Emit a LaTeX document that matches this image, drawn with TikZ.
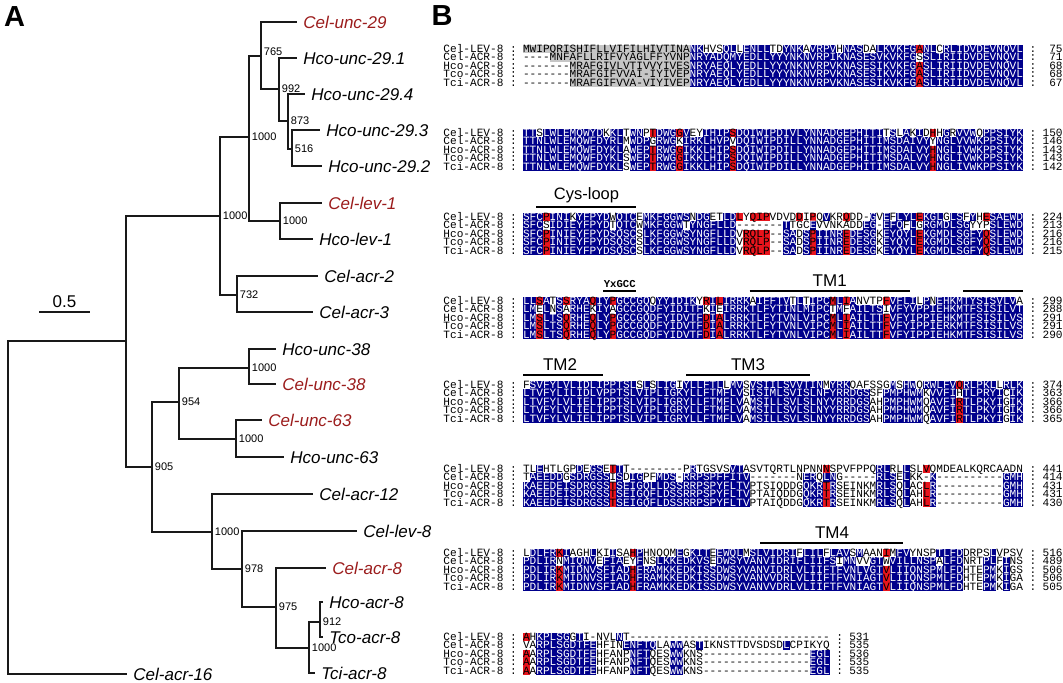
\documentclass[tikz,border=0pt]{standalone}
\usepackage{fontspec}
\setmainfont{Liberation Sans}
\newfontfamily\alnmono{Liberation Mono}
\usetikzlibrary{positioning}

\definecolor{alnblue}{HTML}{00008C}
\definecolor{alnred}{HTML}{E8141C}
\definecolor{alngray}{HTML}{C6C6C6}
\definecolor{genered}{HTML}{9B1C1C}

% alignment helpers: residue columns start at x=523, 6.667px apart
\newcount\alncol
\def\alnx{523}
\def\alncw{6.6667}
\def\alnput#1#2{\node[res#2] at ({\alnx+(\the\alncol+0.5)*\alncw},\alny) {#1};}
\def\alnchars#1#2\relax#3#4\relax{%
  \alnput{#1}{#3}%
  \global\advance\alncol by 1\relax
  \ifx\relax#2\relax
    \let\alnnext\relax
  \else
    \ifx\relax#4\relax
      \def\alnnext{\alnchars#2\relax w\relax}%
    \else
      \def\alnnext{\alnchars#2\relax#4\relax}%
    \fi
  \fi
  \alnnext}
% #1 y, #2 name, #3 residues, #4 shading (b blue, w none, r red, g grey), #5 end number
\newcommand\alnrow[5]{%
  \def\alny{#1}%
  \node[alntext,anchor=west] at (443,#1) {#2 :};
  \global\alncol=0
  \alnchars#3\relax#4\relax
  \node[alntext] at ({\alnx+(\the\alncol+1.5)*\alncw},#1) {:};
  \node[alntext,anchor=east] at ({\alnx+(\the\alncol+6)*\alncw},#1) {#5};
}

\begin{document}
\begin{tikzpicture}[x=0.5pt,y=-0.5pt,
  branch/.style={line width=1pt,draw=black!90},
  leaf/.style={anchor=west,inner xsep=3pt,inner ysep=0pt,text height=6.1pt,text depth=0pt,
    font=\fontsize{8.5}{9}\selectfont\itshape},
  celeg/.style={leaf,text=genered},
  boot/.style={anchor=west,inner xsep=1.25pt,inner ysep=0pt,text height=3.9pt,text depth=0pt,
    font=\fontsize{5.5}{6}\selectfont},
  panel/.style={inner sep=0pt,text height=10.4pt,text depth=0pt,font=\fontsize{14.5}{15}\selectfont\bfseries},
  alntext/.style={inner sep=0pt,text height=3.6pt,text depth=0.2pt,font=\alnmono\fontsize{5.56}{6}\selectfont},
  alncell/.style={alntext,minimum width=3.45pt,minimum height=4.45pt},
  resb/.style={alncell,fill=alnblue,text=white},
  resw/.style={alncell},
  resr/.style={alncell,fill=alnred},
  resg/.style={alncell,fill=alngray},
  region/.style={line width=1pt},
  regtext/.style={inner sep=0pt,font=\fontsize{8.5}{9}\selectfont}]
\useasboundingbox (0,0) rectangle (1063,683);

% ---------- A: tree ----------
\node[panel] (pa) at (14.5,16.5) {A};

\coordinate (nroot) at (8,508);
\coordinate (nmain) at (126,341);
\coordinate (nlev) at (220,216);
\coordinate (nunc) at (249,137);
\coordinate (nunc29a) at (261,56);
\coordinate (nunc29b) at (279,89);
\coordinate (nunc29c) at (288,121);
\coordinate (nunc29d) at (292,149);
\coordinate (nlev1) at (280,221);
\coordinate (nacr23) at (237,295);
\coordinate (nlow) at (152,467);
\coordinate (nunc3863) at (179,402);
\coordinate (nunc38) at (249,368);
\coordinate (nunc63) at (236,439);
\coordinate (nacr) at (212,532);
\coordinate (nacr8a) at (242,569);
\coordinate (nacr8b) at (276,607);
\coordinate (nacr8c) at (309,648);
\coordinate (nacr8d) at (320,622);

\node[celeg] (celunc29) at (297,22) {Cel-unc-29};
\node[leaf] (hcounc291) at (297,58) {Hco-unc-29.1};
\node[leaf] (hcounc294) at (305,94) {Hco-unc-29.4};
\node[leaf] (hcounc293) at (320,130) {Hco-unc-29.3};
\node[leaf] (hcounc292) at (322,166) {Hco-unc-29.2};
\node[celeg] (cellev1) at (322,203) {Cel-lev-1};
\node[leaf] (hcolev1) at (313,239) {Hco-lev-1};
\node[leaf] (celacr2) at (318,276) {Cel-acr-2};
\node[leaf] (celacr3) at (313,312) {Cel-acr-3};
\node[leaf] (hcounc38) at (276,349) {Hco-unc-38};
\node[celeg] (celunc38) at (276,384) {Cel-unc-38};
\node[celeg] (celunc63) at (262,420) {Cel-unc-63};
\node[leaf] (hcounc63) at (284,457) {Hco-unc-63};
\node[leaf] (celacr12) at (313,494) {Cel-acr-12};
\node[leaf] (cellev8) at (357,531) {Cel-lev-8};
\node[celeg] (celacr8) at (326,568) {Cel-acr-8};
\node[leaf] (hcoacr8) at (323,602) {Hco-acr-8};
\node[leaf] (tcoacr8) at (323,637) {Tco-acr-8};
\node[leaf] (tciacr8) at (315,673) {Tci-acr-8};
\node[leaf] (celacr16) at (127,674) {Cel-acr-16};

\draw[branch] (nroot) |- (nmain);
\draw[branch] (nroot) |- (celacr16.west);
\draw[branch] (nmain) |- (nlev);
\draw[branch] (nmain) |- (nlow);
\draw[branch] (nlev) |- (nunc);
\draw[branch] (nlev) |- (nacr23);
\draw[branch] (nunc) |- (nunc29a);
\draw[branch] (nunc) |- (nlev1);
\draw[branch] (nunc29a) |- (celunc29.west);
\draw[branch] (nunc29a) |- (nunc29b);
\draw[branch] (nunc29b) |- (hcounc291.west);
\draw[branch] (nunc29b) |- (nunc29c);
\draw[branch] (nunc29c) |- (hcounc294.west);
\draw[branch] (nunc29c) |- (nunc29d);
\draw[branch] (nunc29d) |- (hcounc293.west);
\draw[branch] (nunc29d) |- (hcounc292.west);
\draw[branch] (nlev1) |- (cellev1.west);
\draw[branch] (nlev1) |- (hcolev1.west);
\draw[branch] (nacr23) |- (celacr2.west);
\draw[branch] (nacr23) |- (celacr3.west);
\draw[branch] (nlow) |- (nunc3863);
\draw[branch] (nlow) |- (nacr);
\draw[branch] (nunc3863) |- (nunc38);
\draw[branch] (nunc3863) |- (nunc63);
\draw[branch] (nunc38) |- (hcounc38.west);
\draw[branch] (nunc38) |- (celunc38.west);
\draw[branch] (nunc63) |- (celunc63.west);
\draw[branch] (nunc63) |- (hcounc63.west);
\draw[branch] (nacr) |- (celacr12.west);
\draw[branch] (nacr) |- (nacr8a);
\draw[branch] (nacr8a) |- (cellev8.west);
\draw[branch] (nacr8a) |- (nacr8b);
\draw[branch] (nacr8b) |- (celacr8.west);
\draw[branch] (nacr8b) |- (nacr8c);
\draw[branch] (nacr8c) |- (nacr8d);
\draw[branch] (nacr8c) |- (tciacr8.west);
\draw[branch] (nacr8d) |- (hcoacr8.west);
\draw[branch] (nacr8d) |- (tcoacr8.west);

% bootstrap values
\node[boot] (bnlev) at (nlev) {1000};
\node[boot] (bnunc) at (nunc) {1000};
\node[boot,yshift=2pt] (bnunc29a) at (nunc29a) {765};
\node[boot] (bnunc29b) at (nunc29b) {992};
\node[boot] (bnunc29c) at (nunc29c) {873};
\node[boot] (bnunc29d) at (nunc29d) {516};
\node[boot] (bnlev1) at (nlev1) {1000};
\node[boot] (bnacr23) at (nacr23) {732};
\node[boot] (bnlow) at (nlow) {905};
\node[boot] (bnunc3863) at (nunc3863) {954};
\node[boot] (bnunc38) at (nunc38) {1000};
\node[boot] (bnunc63) at (nunc63) {1000};
\node[boot] (bnacr) at (nacr) {1000};
\node[boot] (bnacr8a) at (nacr8a) {978};
\node[boot] (bnacr8b) at (nacr8b) {975};
\node[boot] (bnacr8c) at (nacr8c) {1000};
\node[boot] (bnacr8d) at (nacr8d) {912};

% scale bar
\coordinate (sbl) at (39,312);
\coordinate (sbr) at (90,312);
\draw[branch] (sbl) -- (sbr);
\node[inner sep=0pt,text height=6.1pt,text depth=0pt,font=\fontsize{8.5}{9}\selectfont] (sbtext) at (64.5,301) {0.5};

% ---------- B: alignment ----------
\node[panel] (pb) at (442,15.5) {B};

\alnrow{49}{Cel-LEV-8}{MWIPQRISHI FLLVIFILHI VTINANKHVS QLLENLLTDY NKAVRPVHNA SDALKVKFGA NLCRLIDVDE VNQVL}{gggggggggg gggggggggg gggggbbwww bbwbbbbwwb bbwbbbbwbb bwwbbbbbbr bbwbbbbbbb bbbbb}{75}
\alnrow{57.5}{Cel-ACR-8}{----MNFAFL LRIFVYAGLF FYVNPNRYAD QMYEDLLYYY NKNVRPIKNA SESVKVKFGS SLIRIIDVDE VNQVL}{wwwwgggggg gggggggggg gggggbbbbb bbbbbbbbbb bbbbbbbbbb bbbbbbbbbw bbbbbbbbbb bbbbb}{71}
\alnrow{66}{Hco-ACR-8}{-------MRA FGIVLVTIVV YIVESNRYAE QLYEDLLYYY NKNVRPVKNA SESIKVKFGA SLIRIIDVDE VNQVL}{wwwwwwwggg gggggggggg gggggbbbbb bbbbbbbbbb bbbbbbbbbb bbbbbbbbbr bbbbbbbbbb bbbbb}{68}
\alnrow{74.5}{Tco-ACR-8}{-------MRA FGIFVVAI-I YIVEPNRYAE QLYEDLLYYY NKNVRPVKNA SESIKVKFGA SLIRIIDVDE VNQVL}{wwwwwwwggg gggggggggg gggggbbbbb bbbbbbbbbb bbbbbbbbbb bbbbbbbbbr bbbbbbbbbb bbbbb}{68}
\alnrow{83}{Tci-ACR-8}{-------MRA FGIFVVA-VI YIVEPNRYAE QLYEDLLYYY NKNVRPVKNA SESIKVKFGA SLIRIIDVDE VNQVL}{wwwwwwwggg gggggggggg gggggbbbbb bbbbbbbbbb bbbbbbbbbb bbbbbbbbbr bbbbbbbbbb bbbbb}{67}

\alnrow{133}{Cel-LEV-8}{TTSLWLEMQW YDKKLTWNPT DWGGVEYIHI PSDQIWIPDI VLYNNADGEP HITITSLAKI DHHGRVVWQP PSIYK}{bbwbbbbbbb bbwbbwbbwr bbbrbwwbbb brbbbbbbbb bbbbbbbbbb bbbbwbwbwb wrwbwbbbwb bbbbb}{150}
\alnrow{141.5}{Cel-ACR-8}{TTNLWLEMQW FDYRLMWDPG RWGKIRKLHV PVDQIWIPDI LLYNNADGEP HITIMSDAIV YYNGLVVWKP PSIYK}{bbbbbbbbbb bbbbbwbbbw bbbwbbbbbb bwbbbbbbbb bbbbbbbbbb bbbbbbbbbb bwbbbbbbbb bbbbb}{146}
\alnrow{150}{Hco-ACR-8}{TTNLWLEMQW FDYKLAWEPT RWGGIKKLHI PSDQIWIPDI LLYNNADGEP HITIMSDALV YHNGLIVWKP PSIYK}{bbbbbbbbbb bbbbbwbbbr bbbrbbbbbb brbbbbbbbb bbbbbbbbbb bbbbbbbbbb brbbbbbbbb bbbbb}{143}
\alnrow{158.5}{Tco-ACR-8}{TTNLWLEMQW FDYKLSWEPT RWGGIKKLHI PSDQIWIPDI LLYNNADGEP HITIMSDALV YHNGLIVWKP PSIYK}{bbbbbbbbbb bbbbbwbbbr bbbrbbbbbb brbbbbbbbb bbbbbbbbbb bbbbbbbbbb brbbbbbbbb bbbbb}{143}
\alnrow{167}{Tci-ACR-8}{TTNLWLEMQW FDYKLSWEPT RWGGIKKLHI PSDQIWIPDI LLYNNADGEP HITIMSDALV YHNGLIVWKP PSIYK}{bbbbbbbbbb bbbbbwbbbr bbbrbbbbbb brbbbbbbbb bbbbbbbbbb bbbbbbbbbb brbbbbbbbb bbbbb}{142}

\coordinate (cysl) at (536.3,207);
\coordinate (cysr) at (636.3,207);
\draw[region] (cysl) -- (cysr);
\node[regtext,font=\fontsize{8.25}{9}\selectfont] (cystext) at (586.5,195) {Cys-loop};
\alnrow{217}{Cel-LEV-8}{SFCPINIKYF PYDWQTCEMK FGGWSNDGET LDLYQIPVDV DDIPQVKRQD D-GVEFLYLE KGLGLSFYHE SAEWD}{bbbrbbbwbb bbbwbbbwbb bbbbbwbbww bbrwrrrwww wrwrwbwwrw wwbwbwbbbr bbbwbbwbwr bbbbb}{224}
\alnrow{225.5}{Cel-ACR-8}{SFCSIDIEYF PYDTQTCWMK FGGWTYNGFL LD-------T TGCEVVNKAD DEG-EFQFLG RGMDLSGYYP SLEWD}{bbbwbbbbbb bbbwbbbwbb bbbbwbbbbb bbwwwwwwwb wwwbwwwwww wbbwbbbwbw bbbbbbbwww bbbbb}{213}
\alnrow{234}{Hco-ACR-8}{SFCPINIEYF PYDSQSCSLK FGGWSYNGFL LDVRQLP--S ADSPIINRED ESGKEYQYLE KGMDLSGFYQ SLEWD}{bbbrbbbbbb bbbbbbbwbb bbbbbbbbbb bbwrrrrwwb bwbrbbbbrb bbbwbbbbbr bbbbbbbbbr bbbbb}{216}
\alnrow{242.5}{Tco-ACR-8}{SFCPINIEYF PYDSQSCSLK FGGWSYNGFL LDVRQLP--S ADSPIINRED ESGKEYQYLE KGMDLSGFYQ SLEWD}{bbbrbbbbbb bbbbbbbwbb bbbbbbbbbb bbwrrrrwwb bwbrbbbbrb bbbwbbbbbr bbbbbbbbbr bbbbb}{216}
\alnrow{251}{Tci-ACR-8}{SFCPINIEYF PYDSQSCSLK FGGWSYNGFL LDVRQLP--S ADSPIINRED ESGKEYQYLE KGMDLSGFYQ SLEWD}{bbbrbbbbbb bbbbbbbwbb bbbbbbbbbb bbwrrrrwwb bwbrbbbbrb bbbwbbbbbr bbbbbbbbbr bbbbb}{215}

\coordinate (yxl) at (603,291);
\coordinate (yxr) at (636.3,291);
\draw[region] (yxl) -- (yxr);
\node[inner sep=0pt,font=\alnmono\bfseries\fontsize{5.3}{6}\selectfont] (yxtext) at (619.7,284) {YxGCC};
\coordinate (tm1l) at (749.7,291);
\coordinate (tm1r) at (909.7,291);
\draw[region] (tm1l) -- (tm1r);
\node[regtext] (tm1text) at (829.7,281) {TM1};
\coordinate (tm2al) at (963,291);
\coordinate (tm2ar) at (1023,291);
\draw[region] (tm2al) -- (tm2ar);
\alnrow{301}{Cel-LEV-8}{LLSATSSRYA QIYPGCCGQQ YYIDIKYRIL IRRKAIFFTV TLTIPCMLIA NVTPFVFLIL PNEHKMTYSI SVLVA}{bbrbwbrbbb rbbrbbbbbw bbbbbbwrbr bbbbwbbbbb wbwbbbrbrb wwwwrbbbbw bwbbbbbbbb bbbbw}{299}
\alnrow{309.5}{Cel-ACR-8}{LMELNSARHE KIYAGCCGQD FYIDITFKIE IRRKTLFYTI NLMIPCTMFA ILTSIVFYVP PIEHKMTFSI SILVT}{bbwbwbwbbb wbbwbbbbbb bbbbbbbwbw bbbbbbbbbb bbbbbbwbwb bbbbwbbbbb bbbbbbbbbb bbbbb}{288}
\alnrow{318}{Hco-ACR-8}{LMSLTSQRHE QLYPGCCGQD FYIDVTFDIA LRRKTLFYTV NLVIPCMLIA ILTTFVFYIP PIEHKMTFSI SILVS}{bbrbbbrbbb rbbrbbbbbb bbbbbbbrbr bbbbbbbbbb bbbbbbrbrb bbbbrbbbbb bbbbbbbbbb bbbbb}{291}
\alnrow{326.5}{Tco-ACR-8}{LMSLTSQRHE QLYPGCCGQD FYIDVTFDIA LRRKTLFYTV NLVIPCMLIA ILTTFVFYIP PIERKMTFSI SILVS}{bbrbbbrbbb rbbrbbbbbb bbbbbbbrbr bbbbbbbbbb bbbbbbrbrb bbbbrbbbbb bbbbbbbbbb bbbbb}{291}
\alnrow{335}{Tci-ACR-8}{LMSLTSQRHE QLYPGCCGQD FYIDVTFDIA LRRKTLFYTV NLVIPCMLIA ILTTFVFYIP PIEHKMTFSI SILVS}{bbrbbbrbbb rbbrbbbbbb bbbbbbbrbr bbbbbbbbbb bbbbbbrbrb bbbbrbbbbb bbbbbbbbbb bbbbb}{290}

\coordinate (tm2bl) at (523,375);
\coordinate (tm2br) at (603,375);
\draw[region] (tm2bl) -- (tm2br);
\node[regtext] (tm2text) at (560,365) {TM2};
\coordinate (tm3l) at (686,375);
\coordinate (tm3r) at (809.7,375);
\draw[region] (tm3l) -- (tm3r);
\node[regtext] (tm3text) at (748,365) {TM3};
\alnrow{385}{Cel-LEV-8}{FSVFYLVLID LIPPTSLSLS LIGIYLLFTL LMVSVSIILS VVTINMYRKQ AFSSGMSHWQ RWLFVQRLPK LLRLK}{wbbbbbbbbb bbbbbbbwbw bbbwbbbbbb wbbwbbbbbb bbbbbwbbbw wwwwwbwbbw bbbbbrbbbb bwbbb}{374}
\alnrow{393.5}{Cel-ACR-8}{LTVFYLILID LVPPTSLVIP LIGKYLLFTM FLVSISIMLS VISLNFYRRD GSSFPMPHWM KVVFIHTLPR YICIK}{bbbbbbbbbb bbbbbbbbbb bbbbbbbbbb bbbwbbbbbb bbbbbbbbbb bbwwbbbbbb wbbbbwbbbb bbwbb}{363}
\alnrow{402}{Hco-ACR-8}{LTVFYLVLIE LIPPTSLVIP LIGRYLLFTM FLVAMSILLS VLSLNYYRRD GSAHPMPHWM QAVFIRTLPK YIGIK}{bbbbbbbbbb bbbbbbbbbb bbbbbbbbbb bbbwbbbbbb bbbbbbbbbb bbwwbbbbbb wbbbbrbbbb bbwbb}{366}
\alnrow{410.5}{Tco-ACR-8}{LTVFYLVLIE LIPPTSLVIP LIGRYLLFTM FLVAMSILLS VLSLNYYRRD GSAHPMPHWM QAVFIRTLPK YIGIK}{bbbbbbbbbb bbbbbbbbbb bbbbbbbbbb bbbwbbbbbb bbbbbbbbbb bbwwbbbbbb wbbbbrbbbb bbwbb}{366}
\alnrow{419}{Tci-ACR-8}{LTVFYLVLIE LIPPTSLVIP LIGRYLLFTM FLVAMSILLS VLSLNYYRRD GSAHPMPHWM QAVFIRTLPK YIGIK}{bbbbbbbbbb bbbbbbbbbb bbbbbbbbbb bbbwbbbbbb bbbbbbbbbb bbwwbbbbbb wbbbbrbbbb bbwbb}{365}

\alnrow{469}{Cel-LEV-8}{TLEHTLGPDE GSETTT---- ----PRTGSV SVTASVTQRT LNPNNNSPVF PPQRLRLLSL VQMDEALKQR CAADN}{wwbwwwwwbw bbwrbwwwww wwwwwbwwww wbbwwwwwww wwwwwrwwww wwwbbwwbww rwwwwwwwww wwwww}{441}
\alnrow{477.5}{Cel-ACR-8}{TAEEDDGSDR GSSISDIGPF MDS-RRPSPF FITV------ -NERQLNG-- ---RLSELKK -K-------- --GMH}{wbbbbbwbbb bbbwbwbbww bbbwbbbbbb bbbbwwwwww wwbbwbbwww wwwbbbwbww wbwwwwwwww wwbbb}{414}
\alnrow{486}{Hco-ACR-8}{KAEEDEISDR GSSTSEIGQL LDSSRRPSPY FLTVPTSIQD DGQKRTRSEI NKMRLSQLAC LR-------- --GMH}{bbbbbbbbbb bbbrbbbbbb bbbbbbbbbb bbbbwwwwww wwbbbrbwww wwwbbbwbww rbwwwwwwww wwbbb}{431}
\alnrow{494.5}{Tco-ACR-8}{KAEEDEISDR GSSTSEIGQF LDSSRRPSPY FLTVPTAIQD DGQKRTRSEI NKMRLSQLAH LR-------- --GMH}{bbbbbbbbbb bbbrbbbbbb bbbbbbbbbb bbbbwwwwww wwbbbrbwww wwwbbbwbww rbwwwwwwww wwbbb}{431}
\alnrow{503}{Tci-ACR-8}{KAEEDEISDR GSSTSEIGQF LDSSRRPSPY FLTVPTAIQD DGQKRTRSEI NKMRLSQLAH LR-------- --GMH}{bbbbbbbbbb bbbrbbbbbb bbbbbbbbbb bbbbwwwwww wwbbbrbwww wwwbbbwbww rbwwwwwwww wwbbb}{430}

\coordinate (tm4l) at (760,543);
\coordinate (tm4r) at (903,543);
\draw[region] (tm4l) -- (tm4r);
\node[regtext] (tm4text) at (832,533) {TM4};
\alnrow{553}{Cel-LEV-8}{LDLFRKIAGH LKIISAHPHN QQMEGKITEE WQLMSLVIDR IFLILFLAVS MAANIMFVYN SPTLFDDRPS LVPSV}{wbbbbrbwww bwwbwwrbww wwwbwbbbwb bbbwbbbbbb bwbbbwbbbw bwwwrwbbww wwbbbbwwww bwwww}{516}
\alnrow{561.5}{Cel-ACR-8}{PDLIRNMIQN VEFIAEYFNS LKKEDKVSED WSYVANVIDR IFLIIFSIMN VVGTWVILLN SPALFDNRTP LFINS}{bbbbbwbbbb bwbbbwwbww bbbbbbbbwb bbbbbbbbbb bbbbbbbwbb wwbbwbbbbb bbwbbbwwwb bwbww}{489}
\alnrow{570}{Hco-ACR-8}{PDLIRKMIDN VSFIADHFRA MKKEDKISSD WSYVANVIDR LVLIIFTFVN LVGTVLIIQN SPMLFDHTEP MKIGS}{bbbbbrbbbb bbbbbbrbbb bbbbbbbbbb bbbbbbbbbb bbbbbbbbbb bbbbrbbbbb bbbbbbwwwb bwbww}{506}
\alnrow{578.5}{Tco-ACR-8}{PDLIRKMIDN VSFIADHFRA MKKEDKISSD WSYVANVVDR LVLIIFTFVN IAGTVLIIQN SPMLFDHTEP MKIGA}{bbbbbrbbbb bbbbbbrbbb bbbbbbbbbb bbbbbbbbbb bbbbbbbbbb bbbbrbbbbb bbbbbbwwwb bwbww}{506}
\alnrow{587}{Tci-ACR-8}{PDLIRKMIDN VSFIADHFRA MKKEDKISSD WSYVANVVDR LVLIIFTFVN IAGTVLIIQN SPMLFDHTEP MKIGA}{bbbbbrbbbb bbbbbbrbbb bbbbbbbbbb bbbbbbbbbb bbbbbbbbbb bbbbrbbbbb bbbbbbwwwb bwbww}{505}

\alnrow{637}{Cel-LEV-8}{AHKPLSGGTI -NVLNT---- ---------- ---------- ------}{rwbbbbbwbw wwwwbwwwww wwwwwwwwww wwwwwwwwww wwwwww}{531}
\alnrow{645.5}{Cel-ACR-8}{VARPLSGDTF EHFINENFTQ LAWWASTIKN STTDVSDSDL CPIKYQ}{wwbbbbbbbb bwwwwbbbbb wwbbwwbwww wwwwwwwwwb wwwwww}{535}
\alnrow{654}{Hco-ACR-8}{AARPLSGDTF EHFANPNFTQ ESWWKNS--- ---------- ---EGL}{rwbbbbbbbb bwwwwwbbbw wwbbwwwwww wwwwwwwwww wwwbbb}{536}
\alnrow{662.5}{Tco-ACR-8}{AARPLSGDTF EHFANPNFTQ ESWWKNS--- ---------- ---EGL}{rwbbbbbbbb bwwwwwbbbw wwbbwwwwww wwwwwwwwww wwwbbb}{535}
\alnrow{671}{Tci-ACR-8}{AARPLSGDTF EHFANPNFTQ ESWWKNS--- ---------- ---EGL}{rwbbbbbbbb bwwwwwbbbw wwbbwwwwww wwwwwwwwww wwwbbb}{535}
\end{tikzpicture}
\end{document}
